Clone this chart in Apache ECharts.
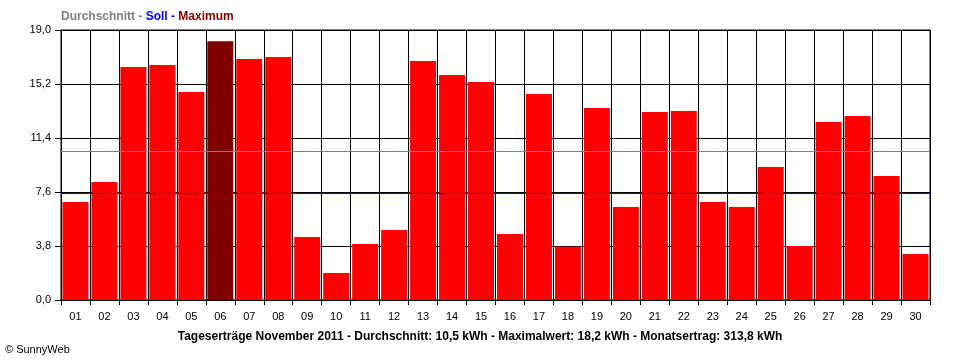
<!DOCTYPE html>
<html>
<head>
<meta charset="utf-8">
<script src="https://cdn.jsdelivr.net/npm/echarts@6/dist/echarts.min.js"></script>
<style>
html,body{margin:0;padding:0;background:#fff;}
#chart{width:960px;height:360px;}
</style>
</head>
<body>
<div id="chart"></div>
<script>
const days = ['01','02','03','04','05','06','07','08','09','10','11','12','13','14','15','16','17','18','19','20','21','22','23','24','25','26','27','28','29','30'];
const yields = [6.9, 8.3, 16.4, 16.54, 14.64, 18.2, 16.96, 17.1, 4.43, 1.9, 3.94, 4.93, 16.82, 15.83, 15.34, 4.64, 14.5, 3.75, 13.51, 6.54, 13.23, 13.3, 6.9, 6.54, 9.36, 3.8, 12.53, 12.95, 8.73, 3.24];
const average = 10.46;
const target = 7.5;
const yMin = 0, yMax = 19, yStep = 3.8;
const legendParts = ['Durchschnitt - ', 'Soll - ', 'Maximum'];
const footerTitle = 'Tageserträge November 2011 - Durchschnitt: 10,5 kWh - Maximalwert: 18,2 kWh - Monatsertrag: 313,8 kWh';
const credit = '© SunnyWeb';

const FONT = '"Liberation Sans", Arial, sans-serif';
const maxVal = Math.max.apply(null, yields);
const chart = echarts.init(document.getElementById('chart'), null, {renderer: 'canvas'});
chart.setOption({
  animation: false,
  backgroundColor: '#ffffff',
  textStyle: {fontFamily: FONT},
  title: [
    {
      left: 61, top: 11, padding: 0,
      text: '{a|' + legendParts[0] + '}{b|' + legendParts[1] + '}{c|' + legendParts[2] + '}',
      textStyle: {
        rich: {
          a: {color: '#808080', fontWeight: 'bold', fontSize: 12, fontFamily: FONT},
          b: {color: '#0000ff', fontWeight: 'bold', fontSize: 12, fontFamily: FONT},
          c: {color: '#800000', fontWeight: 'bold', fontSize: 12, fontFamily: FONT}
        }
      }
    },
    {
      left: 'center', top: 331, padding: 0,
      text: footerTitle,
      textStyle: {color: '#000', fontWeight: 'bold', fontSize: 12, fontFamily: FONT}
    },
    {
      left: 5, top: 344, padding: 0,
      text: credit,
      textStyle: {color: '#000', fontWeight: 'normal', fontSize: 11, fontFamily: FONT}
    }
  ],
  grid: {left: 61, right: 30, top: 30, bottom: 60, show: true, borderColor: '#000', borderWidth: 1, backgroundColor: 'transparent'},
  xAxis: {
    type: 'category',
    data: days,
    boundaryGap: true,
    axisLine: {show: true, lineStyle: {color: '#000', width: 1}},
    axisTick: {show: true, length: 5, interval: 0, lineStyle: {color: '#000'}},
    axisLabel: {color: '#000', fontSize: 11, fontFamily: FONT, margin: 11, interval: 0},
    splitLine: {show: true, interval: 0, lineStyle: {color: '#000', width: 1}}
  },
  yAxis: {
    type: 'value',
    min: yMin, max: yMax, interval: yStep,
    axisLine: {show: true, lineStyle: {color: '#000', width: 1}},
    axisTick: {show: true, length: 6, lineStyle: {color: '#000'}},
    axisLabel: {color: '#000', fontSize: 11, fontFamily: FONT, margin: 10,
      formatter: v => v.toFixed(1).replace('.', ',')},
    splitLine: {show: true, lineStyle: {color: '#000', width: 1}}
  },
  series: [{
    type: 'bar',
    data: yields,
    barWidth: 26,
    itemStyle: {color: p => p.value === maxVal ? '#800000' : '#ff0000'},
    markLine: {
      silent: true,
      symbol: 'none',
      label: {show: false},
      z: 10,
      data: [
        {yAxis: average, lineStyle: {color: '#808080', width: 1, type: 'solid'}},
        {yAxis: target, lineStyle: {color: '#0000ff', width: 1, type: 'solid'}}
      ]
    }
  }]
});
</script>
</body>
</html>
